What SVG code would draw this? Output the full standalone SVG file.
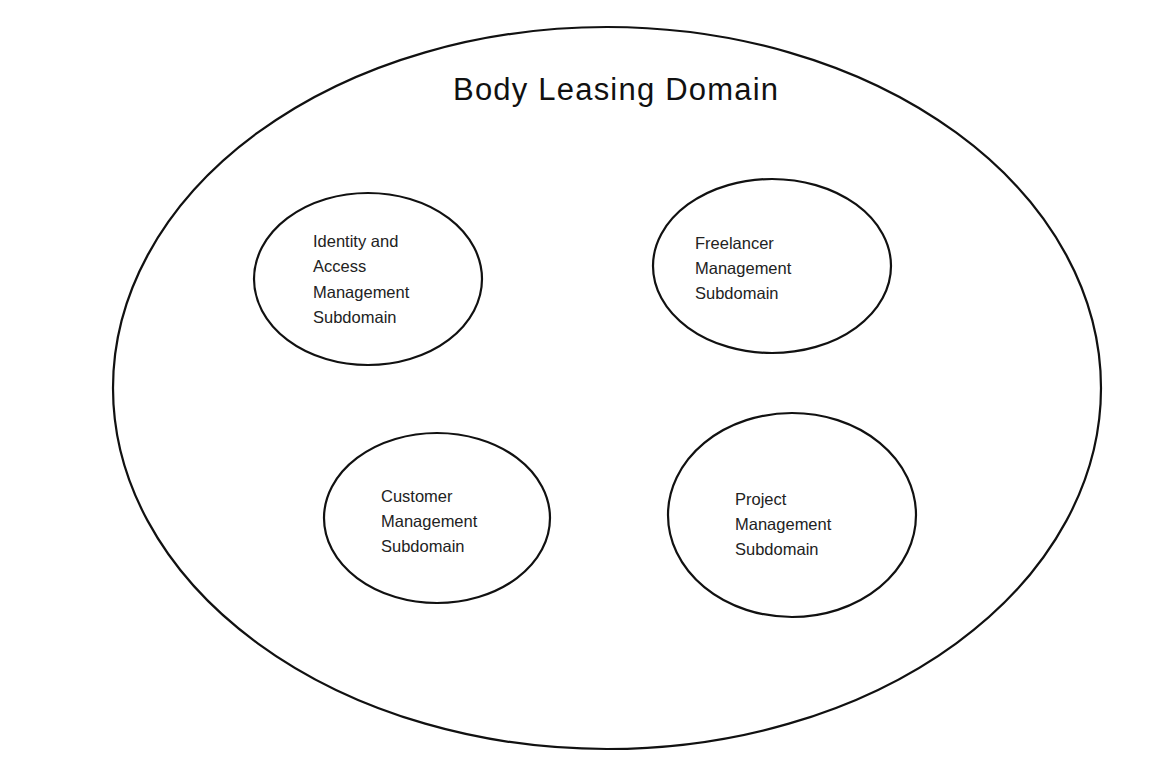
<svg xmlns="http://www.w3.org/2000/svg" width="1166" height="777" viewBox="0 0 1166 777">
<style>
.shape{fill:#fff;stroke:#111;stroke-width:2.2}
.lbl{font-family:"Liberation Sans",Arial,sans-serif;font-size:16.5px;fill:#222}
.title{font-family:"Liberation Sans",Arial,sans-serif;font-size:31px;fill:#111}
</style>
<rect width="1166" height="777" fill="#fff"/>
<g id="domain">
<ellipse class="shape" cx="607" cy="388" rx="494" ry="361"/>
<text class="title" x="453" y="100" textLength="325">Body Leasing Domain</text>
</g>
<g id="identity">
<ellipse class="shape" cx="368" cy="279" rx="114" ry="86"/>
<text class="lbl" x="313" y="247">Identity and</text>
<text class="lbl" x="313" y="272">Access</text>
<text class="lbl" x="313" y="298">Management</text>
<text class="lbl" x="313" y="323">Subdomain</text>
</g>
<g id="freelancer">
<ellipse class="shape" cx="772" cy="266" rx="119" ry="87"/>
<text class="lbl" x="695" y="249">Freelancer</text>
<text class="lbl" x="695" y="274">Management</text>
<text class="lbl" x="695" y="299">Subdomain</text>
</g>
<g id="customer">
<ellipse class="shape" cx="437" cy="518" rx="113" ry="85"/>
<text class="lbl" x="381" y="502">Customer</text>
<text class="lbl" x="381" y="527">Management</text>
<text class="lbl" x="381" y="552">Subdomain</text>
</g>
<g id="project">
<ellipse class="shape" cx="792" cy="515" rx="124" ry="102"/>
<text class="lbl" x="735" y="505">Project</text>
<text class="lbl" x="735" y="530">Management</text>
<text class="lbl" x="735" y="555">Subdomain</text>
</g>
<g id="connectors"/>
</svg>
